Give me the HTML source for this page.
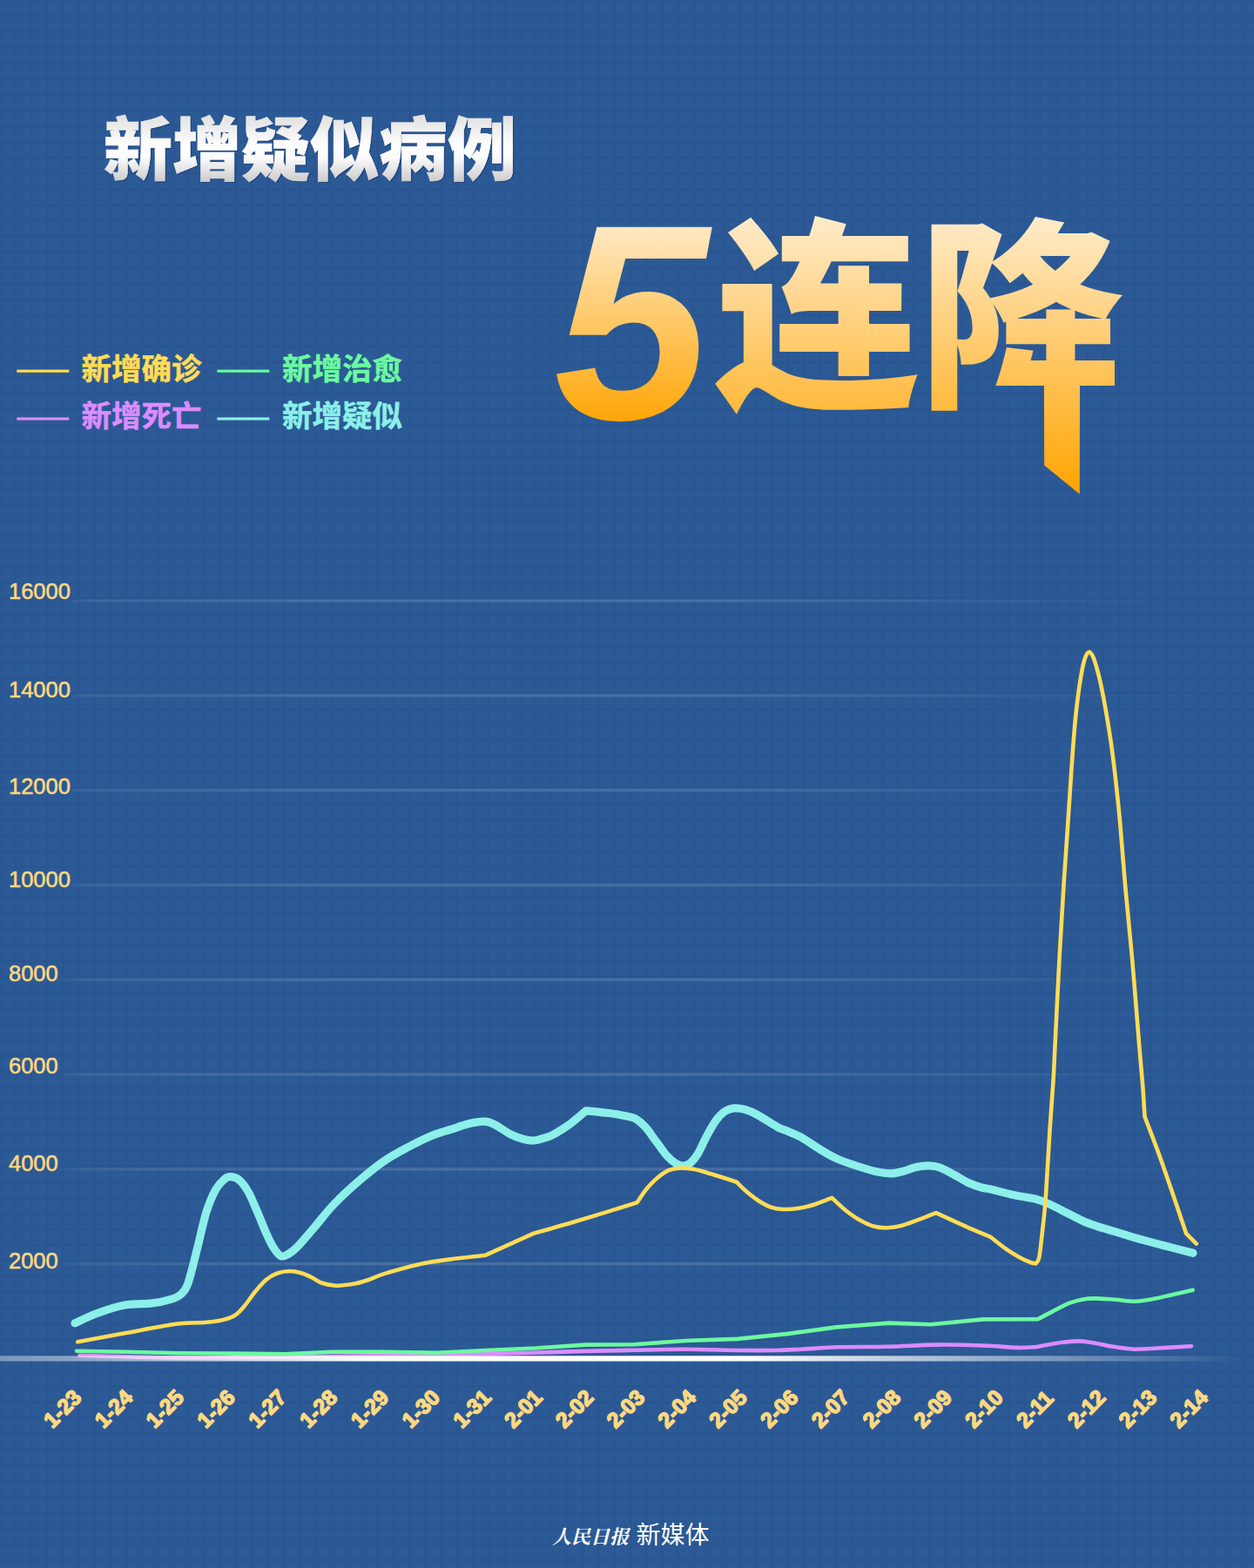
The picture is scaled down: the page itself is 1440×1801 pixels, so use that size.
<!DOCTYPE html>
<html><head><meta charset="utf-8"><title>新增疑似病例 5连降</title>
<style>
html,body{margin:0;padding:0;background:#2c5a96;}
body{width:1440px;height:1801px;overflow:hidden;font-family:"Liberation Sans",sans-serif;}
svg{display:block;}
text{font-family:"Liberation Sans","Noto Sans CJK SC",sans-serif;}
</style></head><body>
<svg width="1440" height="1801" viewBox="0 0 1440 1801">
<defs>
<pattern id="grid" width="18.1" height="18.1" patternUnits="userSpaceOnUse" x="-1.9" y="-1.8">
<path d="M0,0H3.8V18.1H0ZM0,0H18.1V3.8H0Z" fill="#1b3c70" fill-opacity=".07"/>
<path d="M.9,0H2.9V18.1H.9ZM0,.9H18.1V2.9H0Z" fill="#1b3c70" fill-opacity=".085"/>
</pattern>
<linearGradient id="gTitle" x1="0" y1="134" x2="0" y2="210" gradientUnits="userSpaceOnUse">
<stop offset="0" stop-color="#e2e2e2"/><stop offset=".45" stop-color="#ffffff"/><stop offset=".62" stop-color="#fbfbfb"/><stop offset="1" stop-color="#c9c9c9"/>
</linearGradient>
<linearGradient id="g5" x1="0" y1="252" x2="0" y2="481" gradientUnits="userSpaceOnUse">
<stop offset="0" stop-color="#ffebc9"/><stop offset="1" stop-color="#ffa70a"/>
</linearGradient>
<linearGradient id="gLJ" x1="0" y1="252" x2="0" y2="568" gradientUnits="userSpaceOnUse">
<stop offset="0" stop-color="#ffebc9"/><stop offset="1" stop-color="#ffa400"/>
</linearGradient>
<linearGradient id="gBase" x1="0" y1="0" x2="1425" y2="0" gradientUnits="userSpaceOnUse">
<stop offset="0" stop-color="#fff" stop-opacity=".38"/><stop offset=".06" stop-color="#fff" stop-opacity=".45"/><stop offset=".30" stop-color="#fff" stop-opacity="1"/><stop offset=".60" stop-color="#fff" stop-opacity="1"/><stop offset=".82" stop-color="#fff" stop-opacity=".45"/><stop offset="1" stop-color="#fff" stop-opacity="0"/>
</linearGradient>
<linearGradient id="gGrid" x1="60" y1="0" x2="1400" y2="0" gradientUnits="userSpaceOnUse">
<stop offset="0" stop-color="#fff" stop-opacity="0"/><stop offset=".03" stop-color="#fff" stop-opacity=".08"/><stop offset=".25" stop-color="#fff" stop-opacity=".14"/><stop offset=".55" stop-color="#fff" stop-opacity=".14"/><stop offset=".85" stop-color="#fff" stop-opacity=".04"/><stop offset="1" stop-color="#fff" stop-opacity="0"/>
</linearGradient>
</defs>
<rect width="1440" height="1801" fill="#2c5a96"/>
<rect width="1440" height="1801" fill="url(#grid)"/>
<g fill="#1a3c72" stroke="#1a3c72" stroke-width=".7" opacity=".7" transform="translate(1.3,1.1)"><text x="119" y="201" font-size="79" font-weight="900">新增疑似病例</text></g><g fill="url(#gTitle)" stroke="url(#gTitle)" stroke-width=".7" stroke-linejoin="miter"><text x="119" y="201" font-size="79" font-weight="900">新增疑似病例</text></g>
<text x="636" y="481" font-size="320" font-weight="bold" font-style="italic" fill="url(#g5)">5</text>
<text x="821" y="450" font-size="235" font-weight="900" fill="url(#gLJ)">连降</text>
<path d="M1198.9,440L1240,440L1239.8,567.6L1199.2,534.6Z" fill="url(#gLJ)"/>
<rect x="19.3" y="424.6" width="60" height="3.2" fill="#ffdc55"/>
<text x="93.5" y="435.5" font-size="34.5" font-weight="bold" fill="#ffdc55" stroke="#ffdc55" stroke-width=".5">新增确诊</text>
<rect x="249.3" y="424.6" width="60" height="3.2" fill="#6cf9a0"/>
<text x="324" y="435.5" font-size="34.5" font-weight="bold" fill="#6cf9a0" stroke="#6cf9a0" stroke-width=".5">新增治愈</text>
<rect x="19.3" y="479.4" width="60" height="3.2" fill="#dc8cff"/>
<text x="93.5" y="490.3" font-size="34.5" font-weight="bold" fill="#dc8cff" stroke="#dc8cff" stroke-width=".5">新增死亡</text>
<rect x="249.3" y="479.4" width="60" height="3.2" fill="#8cefe9"/>
<text x="324" y="490.3" font-size="34.5" font-weight="bold" fill="#8cefe9" stroke="#8cefe9" stroke-width=".5">新增疑似</text>
<rect x="83" y="687.9" width="1317" height="4.2" fill="url(#gGrid)" opacity=".5"/><rect x="83" y="688.9" width="1317" height="2.2" fill="url(#gGrid)" opacity=".55"/>
<rect x="83" y="796.7" width="1317" height="4.2" fill="url(#gGrid)" opacity=".5"/><rect x="83" y="797.7" width="1317" height="2.2" fill="url(#gGrid)" opacity=".55"/>
<rect x="83" y="905.5" width="1317" height="4.2" fill="url(#gGrid)" opacity=".5"/><rect x="83" y="906.5" width="1317" height="2.2" fill="url(#gGrid)" opacity=".55"/>
<rect x="83" y="1014.3" width="1317" height="4.2" fill="url(#gGrid)" opacity=".5"/><rect x="83" y="1015.3" width="1317" height="2.2" fill="url(#gGrid)" opacity=".55"/>
<rect x="68" y="1123.1" width="1332" height="4.2" fill="url(#gGrid)" opacity=".5"/><rect x="68" y="1124.1" width="1332" height="2.2" fill="url(#gGrid)" opacity=".55"/>
<rect x="68" y="1231.9" width="1332" height="4.2" fill="url(#gGrid)" opacity=".5"/><rect x="68" y="1232.9" width="1332" height="2.2" fill="url(#gGrid)" opacity=".55"/>
<rect x="68" y="1340.7" width="1332" height="4.2" fill="url(#gGrid)" opacity=".5"/><rect x="68" y="1341.7" width="1332" height="2.2" fill="url(#gGrid)" opacity=".55"/>
<rect x="68" y="1449.5" width="1332" height="4.2" fill="url(#gGrid)" opacity=".5"/><rect x="68" y="1450.5" width="1332" height="2.2" fill="url(#gGrid)" opacity=".55"/>
<g font-size="25.5" fill="#ffd880" stroke="#ffd880" stroke-width=".55">
<text x="10" y="687.8">16000</text>
<text x="10" y="801.2">14000</text>
<text x="10" y="911.6">12000</text>
<text x="10" y="1019.4">10000</text>
<text x="10" y="1126.5">8000</text>
<text x="10" y="1233.4">6000</text>
<text x="10" y="1344.5">4000</text>
<text x="10" y="1456.5">2000</text>
</g>
<path d="M91.3,1556.7C110.4,1557.2 164.4,1559.1 205.8,1559.4C247.2,1559.7 290.6,1558.8 340,1558.3C389.4,1557.8 464.3,1556.9 502.5,1556.3C540.7,1555.7 549.4,1555.3 569,1554.8C588.6,1554.3 602.8,1554 620,1553.5C637.2,1553 654,1552.4 672,1551.9C690,1551.5 709.2,1551.2 728.3,1550.8C747.4,1550.4 766.6,1549.8 786.7,1549.8C806.9,1549.8 831.9,1550.8 849.2,1551C866.6,1551.2 879,1551.2 890.8,1551C902.6,1550.8 908,1550.4 920,1549.8C932,1549.2 945.7,1547.8 962.5,1547.3C979.3,1546.8 1002,1547.2 1020.8,1546.7C1039.5,1546.2 1055.9,1544.8 1075,1544.6C1094.1,1544.4 1120.1,1545.2 1135.4,1545.8C1150.7,1546.3 1158,1547.7 1166.7,1547.9C1175.4,1548.2 1182.1,1547.7 1187.5,1547.3C1192.9,1546.9 1193.8,1546.2 1198.9,1545.3C1204,1544.4 1211.8,1542.8 1218.3,1542C1224.8,1541.2 1232,1540.4 1237.8,1540.4C1243.6,1540.4 1246.8,1541 1253.3,1542C1259.8,1543 1268.6,1545.3 1276.7,1546.6C1284.8,1547.9 1293.8,1549.3 1301.9,1549.7C1310,1550.1 1314.3,1549.4 1325.3,1548.8C1336.3,1548.2 1360.9,1546.6 1368,1546.2" fill="none" stroke="#dc8cff" stroke-width="4.6" stroke-linecap="round" stroke-linejoin="round"/>
<rect x="0" y="1557.3" width="1425" height="6.2" fill="url(#gBase)"/>
<path d="M88.1,1551.7L143.3,1552.7L205.8,1554.2L268.3,1554.6L326.7,1555.2L381.7,1552.7L440,1552.7L502.5,1553.8L558.8,1551L615,1548.5L672.1,1544.6L728.3,1544.2L786.7,1540L847.1,1537.9L903.3,1532.1L960.4,1524.4L1020.8,1519.6L1068.8,1521.3L1129.2,1515.4L1192.1,1515.1C1194.8,1513.6 1202.6,1509.5 1208.6,1506.4C1214.6,1503.3 1222.3,1499 1228.1,1496.7C1233.9,1494.4 1238.8,1493.3 1243.6,1492.4C1248.4,1491.5 1251,1491.3 1257.2,1491.4C1263.4,1491.5 1272.8,1492.2 1280.6,1492.8C1288.4,1493.3 1296.5,1494.9 1303.9,1494.7C1311.4,1494.5 1318.2,1493.1 1325.3,1491.8C1332.4,1490.5 1339.3,1488.6 1346.7,1486.9C1354.1,1485.2 1365.8,1482.6 1369.6,1481.7" fill="none" stroke="#6cf9a0" stroke-width="4.6" stroke-linecap="round" stroke-linejoin="round"/>
<path d="M86,1519.8C90.3,1517.9 102.5,1511.8 112.1,1508.3C121.6,1504.8 132.9,1500.9 143.3,1499C153.7,1497.1 165.9,1498 174.6,1496.9C183.3,1495.9 189.8,1494.4 195.4,1492.7C201,1491 204.4,1489.8 207.9,1486.5C211.4,1483.2 213.2,1481.8 216.3,1472.9C219.4,1464 223.2,1446.8 226.7,1433.3C230.2,1419.8 233.6,1402.8 237.1,1391.7C240.6,1380.6 244,1373 247.5,1366.7C251,1360.5 254.9,1356.7 257.9,1354.2C260.8,1351.7 262.4,1351.5 265.2,1351.7C268,1351.9 271.3,1352.4 274.6,1355.2C277.9,1358 281.5,1362.7 285,1368.8C288.5,1374.9 291.9,1383.7 295.4,1391.7C298.9,1399.7 302.7,1409.8 305.8,1416.7C308.9,1423.6 311.4,1429 314.2,1433.3C317,1437.6 319.7,1441.5 322.5,1442.7C325.3,1443.9 327.7,1442.3 330.8,1440.6C333.9,1438.9 336.3,1437.4 341.3,1432.3C346.3,1427.2 353.7,1418.2 360.8,1410C367.9,1401.8 375.1,1391.9 383.8,1382.9C392.5,1373.9 403.2,1364.1 412.9,1355.8C422.6,1347.5 432.7,1339.3 442.1,1332.9C451.5,1326.5 460.2,1322.1 469.2,1317.3C478.2,1312.5 488.3,1307.5 496.3,1304.2C504.3,1300.9 510.2,1299.7 517.1,1297.5C524,1295.3 531.3,1292.4 537.9,1290.8C544.5,1289.2 551.5,1287.8 556.7,1288.1C561.9,1288.3 564.4,1289.9 569.2,1292.3C574.1,1294.7 580.6,1300 585.8,1302.7C591,1305.4 595.9,1307.1 600.4,1308.3C604.9,1309.5 608.4,1310.3 612.9,1310C617.4,1309.7 623.5,1307.5 627.5,1306.3C631.5,1305 632.4,1304.9 636.7,1302.5C641,1300.1 647.2,1296.5 653.3,1292.1C659.4,1287.6 669.8,1278.5 673.1,1275.8C677.5,1276.2 691.7,1277.5 699.2,1278.5C706.7,1279.5 712.9,1280.7 717.9,1281.7C722.9,1282.8 725.6,1282.7 729.4,1284.8C733.2,1286.9 736.8,1289.9 740.8,1294.2C744.8,1298.5 749.1,1305.2 753.3,1310.8C757.5,1316.3 762,1323.2 765.8,1327.5C769.6,1331.8 773.2,1334.4 776.3,1336.3C779.4,1338.2 781.8,1339.1 784.6,1339C787.4,1338.9 790.1,1338.1 792.9,1335.8C795.7,1333.5 798.2,1330.6 801.3,1325.4C804.4,1320.2 808.2,1311 811.7,1304.6C815.2,1298.2 818.6,1291.6 822.1,1286.9C825.6,1282.2 829,1278.8 832.5,1276.5C836,1274.2 839.1,1273.2 842.9,1272.9C846.7,1272.6 850.9,1273.1 855.4,1274.4C859.9,1275.7 863.8,1277.2 870,1280.6C876.2,1284 887.4,1291.6 892.9,1294.6C898.4,1297.6 898.6,1296.8 903.3,1298.8C907.9,1300.8 914.4,1303.1 920.8,1306.7C927.2,1310.3 935.1,1316.2 941.7,1320.2C948.3,1324.2 953.5,1327.5 960.4,1330.6C967.3,1333.7 976,1336.6 983.3,1339C990.6,1341.4 997.6,1343.7 1004.2,1345.2C1010.8,1346.7 1017.4,1347.9 1022.9,1347.9C1028.5,1347.9 1032.6,1346.5 1037.5,1345.2C1042.4,1344 1047.2,1341.5 1052.1,1340.4C1057,1339.3 1062.2,1338.7 1066.7,1338.8C1071.2,1338.9 1074.4,1339.2 1079.2,1341C1084,1342.8 1090.2,1346.4 1095.8,1349.4C1101.3,1352.4 1107.3,1356.4 1112.5,1358.8C1117.7,1361.2 1122.6,1362.7 1127.1,1364C1131.6,1365.3 1134,1365.2 1139.6,1366.5C1145.1,1367.8 1154.1,1370.3 1160.4,1371.7C1166.7,1373.1 1172.7,1374.2 1177.5,1375.1C1182.3,1376 1184.7,1375.8 1189.2,1377.1C1193.7,1378.4 1198.2,1380 1204.7,1382.9C1211.2,1385.8 1220.6,1390.9 1228.1,1394.6C1235.5,1398.3 1241.3,1401.7 1249.4,1404.9C1257.5,1408.1 1267.6,1410.8 1276.7,1413.6C1285.8,1416.4 1294.2,1419 1303.9,1421.8C1313.6,1424.6 1324,1427.3 1335,1430.2C1346,1433.1 1364.2,1437.8 1370,1439.3" fill="none" stroke="#8cefe9" stroke-width="9.2" stroke-linecap="round" stroke-linejoin="round"/>
<path d="M89.2,1541.3C98.2,1539.6 124.6,1534.7 143.3,1531.3C162.1,1527.9 186.1,1522.9 201.7,1520.8C217.3,1518.7 227.7,1519.7 237.1,1518.8C246.5,1517.9 252.3,1517 257.9,1515.6C263.4,1514.2 266.6,1513 270.4,1510.4C274.2,1507.8 277,1504.5 280.8,1500C284.6,1495.5 289.1,1488.3 293.3,1483.3C297.5,1478.3 301.6,1473.3 305.8,1469.8C310,1466.3 313.8,1464.1 318.3,1462.5C322.8,1460.9 328.3,1460 332.9,1460C337.5,1460 341.8,1461.1 346,1462.3C350.2,1463.5 354.1,1465.4 358,1467.3C361.9,1469.2 364.6,1471.9 369.2,1473.5C373.8,1475.1 379.6,1476.5 385.8,1476.7C392.1,1476.9 400.4,1475.7 406.7,1474.6C412.9,1473.5 417.1,1472.1 423.3,1470C429.6,1467.9 432.7,1465.4 444.2,1462.1C455.7,1458.8 473.2,1453.4 492.1,1450C511,1446.6 546.8,1443.1 557.7,1441.7L612.9,1416.7C621.7,1414.2 646,1407.4 665.8,1401.5C685.6,1395.6 720.5,1384.7 731.5,1381.3C733.4,1378.6 738.9,1369.8 742.9,1365C746.9,1360.2 751.2,1356 755.4,1352.5C759.6,1349 763.7,1346 767.9,1344.2C772.1,1342.4 775.5,1341.9 780.4,1341.7C785.3,1341.5 790.9,1341.9 797.1,1343.1C803.4,1344.3 809.8,1346.4 817.9,1348.8C826,1351.2 841.3,1356.2 846,1357.7C847.6,1359.3 851.4,1363.6 855.4,1367.1C859.4,1370.6 865.1,1375.3 870,1378.5C874.9,1381.7 879.7,1384.5 884.6,1386.3C889.5,1388 893.5,1388.8 899.2,1389C904.9,1389.2 912.4,1388.5 918.8,1387.5C925.2,1386.5 931.4,1384.7 937.5,1382.7C943.6,1380.8 952.2,1377 955.2,1375.8C957.8,1378.2 965.4,1385.7 970.8,1390C976.2,1394.3 981.9,1398.4 987.5,1401.5C993.1,1404.6 999,1407.3 1004.2,1408.8C1009.4,1410.2 1013.6,1410.4 1018.8,1410.2C1024,1410 1029.2,1409.3 1035.4,1407.7C1041.7,1406.1 1049.7,1402.8 1056.3,1400.4C1062.9,1398 1071.9,1394.3 1075,1393.1C1080.5,1395.6 1097.9,1403.7 1108.3,1408.3C1118.7,1412.9 1132.6,1418.7 1137.5,1420.8C1140.3,1423 1148.7,1429.9 1154.2,1433.8C1159.8,1437.7 1166,1441.5 1170.8,1444.2C1175.6,1446.9 1180.2,1448.8 1183.3,1450C1186.4,1451.2 1188.4,1451.2 1189.4,1451.4C1190.1,1450.2 1192,1450.3 1193.3,1444.2C1194.5,1438.1 1195.7,1426.4 1196.9,1415C1198.2,1403.6 1199.4,1395.5 1200.8,1376C1202.2,1356.5 1204,1320.7 1205.5,1298C1207,1275.3 1208.6,1256.4 1209.6,1240C1210.6,1223.6 1210.4,1222.9 1211.6,1199.5C1212.8,1176.1 1214.9,1130.1 1216.6,1099.6C1218.2,1069.1 1220,1040.5 1221.5,1016.4C1223,992.3 1224.5,972.6 1225.7,954.9C1226.9,937.1 1227.7,924.9 1228.7,909.9C1229.7,894.9 1230.6,880 1231.7,865C1232.8,850 1234.2,832.5 1235.5,820C1236.8,807.5 1238,798.8 1239.2,790C1240.5,781.2 1241.8,773.5 1243,767.5C1244.2,761.5 1245.4,757.1 1246.7,754C1248,750.9 1249.4,748.7 1250.8,748.7C1252.2,748.7 1253.5,750.9 1255,754C1256.5,757.1 1258,762.2 1259.5,767.5C1261,772.8 1262.2,777.2 1264,785.5C1265.8,793.8 1268,805.5 1270,817C1272,828.5 1274.1,841 1276,854.5C1277.9,868 1279.7,882.8 1281.4,897.9C1283.1,913 1284.4,925.3 1286.2,945C1288,964.7 1289.7,990.2 1292,1016C1294.3,1041.8 1297.3,1069.4 1300,1100C1302.7,1130.6 1306,1174.8 1308.1,1199.5C1310.1,1224.2 1311.4,1236.2 1312.3,1248C1313.2,1259.8 1313.3,1264.2 1313.7,1270C1314.1,1275.8 1314.4,1280.7 1314.6,1282.8C1318,1291.9 1327.1,1314.8 1335,1337.2C1342.9,1359.6 1357.7,1403.6 1362.2,1416.9L1373.9,1428.6" fill="none" stroke="#ffdc55" stroke-width="4.6" stroke-linecap="round" stroke-linejoin="round"/>
<g font-size="24.6" font-weight="bold" fill="#ffd880" stroke="#ffd880" stroke-width="1.5" stroke-linejoin="round">
<text transform="translate(60.2,1641.5) rotate(-45)">1-23</text>
<text transform="translate(119,1641.5) rotate(-45)">1-24</text>
<text transform="translate(177.8,1641.5) rotate(-45)">1-25</text>
<text transform="translate(236.6,1641.5) rotate(-45)">1-26</text>
<text transform="translate(295.4,1641.5) rotate(-45)">1-27</text>
<text transform="translate(354.2,1641.5) rotate(-45)">1-28</text>
<text transform="translate(413,1641.5) rotate(-45)">1-29</text>
<text transform="translate(471.8,1641.5) rotate(-45)">1-30</text>
<text transform="translate(530.6,1641.5) rotate(-45)">1-31</text>
<text transform="translate(589.4,1641.5) rotate(-45)">2-01</text>
<text transform="translate(648.2,1641.5) rotate(-45)">2-02</text>
<text transform="translate(707,1641.5) rotate(-45)">2-03</text>
<text transform="translate(765.8,1641.5) rotate(-45)">2-04</text>
<text transform="translate(824.6,1641.5) rotate(-45)">2-05</text>
<text transform="translate(883.4,1641.5) rotate(-45)">2-06</text>
<text transform="translate(942.2,1641.5) rotate(-45)">2-07</text>
<text transform="translate(1001,1641.5) rotate(-45)">2-08</text>
<text transform="translate(1059.8,1641.5) rotate(-45)">2-09</text>
<text transform="translate(1118.6,1641.5) rotate(-45)">2-10</text>
<text transform="translate(1177.4,1641.5) rotate(-45)">2-11</text>
<text transform="translate(1236.2,1641.5) rotate(-45)">2-12</text>
<text transform="translate(1295,1641.5) rotate(-45)">2-13</text>
<text transform="translate(1353.8,1641.5) rotate(-45)">2-14</text>
</g>
<text x="634" y="1773" font-size="22" font-weight="bold" font-style="italic" fill="#fff" style="font-family:'Liberation Serif','Noto Serif CJK SC',serif;">人民日报</text>
<text x="730.5" y="1773" font-size="28" fill="#fff">新媒体</text>
</svg>
</body></html>
